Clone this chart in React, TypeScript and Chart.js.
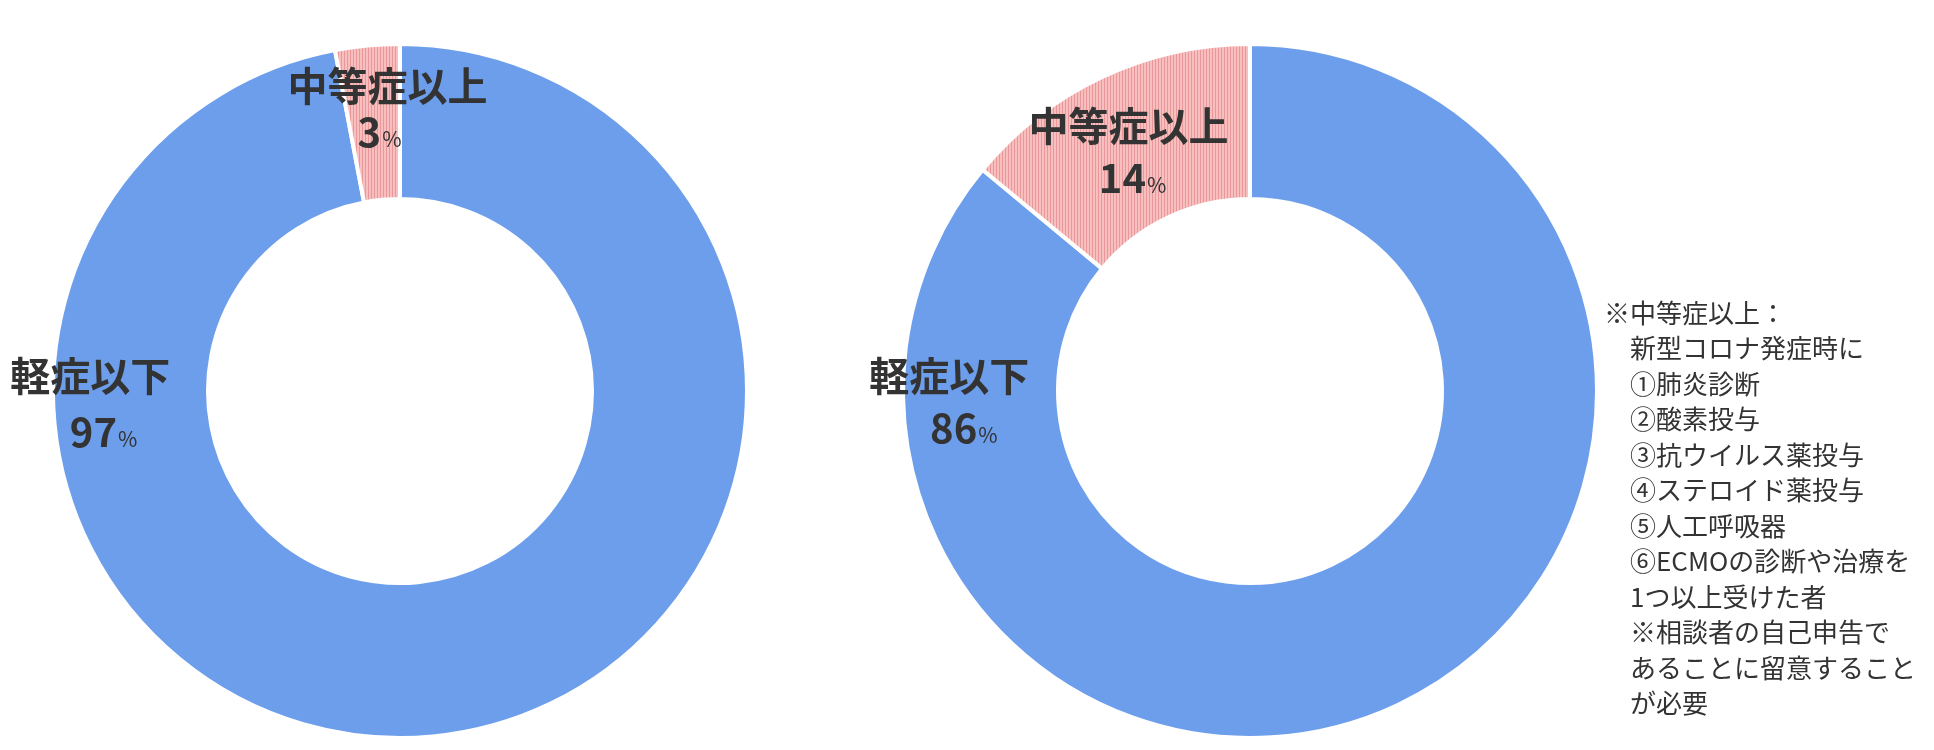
import { useEffect, useRef } from 'react';
import { Chart, registerables } from 'chart.js';

Chart.register(...registerables);

const CATEGORIES = ['軽症以下', '中等症以上'];
const LEFT_SHARES = [97, 3];
const RIGHT_SHARES = [86, 14];

const NOTE_LINES = [
  '※中等症以上：',
  '新型コロナ発症時に',
  '①肺炎診断',
  '②酸素投与',
  '③抗ウイルス薬投与',
  '④ステロイド薬投与',
  '⑤人工呼吸器',
  '⑥ECMOの診断や治療を',
  '1つ以上受けた者',
  '※相談者の自己申告で',
  'あることに留意すること',
  'が必要',
];

const FONT = '"Noto Sans CJK JP", "Noto Sans", sans-serif';
const TEXT = '#333333';
const BLUE = '#6d9eeb';
const BIG = 40;
const SMALL = 21;

// where each slice's label sits: angle from 12 o'clock (deg), distance as share of the outer radius
const LEFT_PLACES = [
  { angle: -92.4, rf: 0.875, gap: 56.5, valueDx: 13 },
  { angle: -3.4, rf: 0.814, gap: 46.5, valueDx: -8.5 },
];
const RIGHT_PLACES = [
  { angle: -92.2, rf: 0.847, gap: 53, valueDx: 14 },
  { angle: -26.6, rf: 0.77, gap: 53, valueDx: 3.5 },
];

function stripePattern() {
  const tile = document.createElement('canvas');
  tile.width = 3;
  tile.height = 4;
  const t = tile.getContext('2d');
  t.fillStyle = '#f7bfbf';
  t.fillRect(0, 0, 3, 4);
  t.fillStyle = '#eb9797';
  t.fillRect(2, 0, 1, 4);
  return document.createElement('canvas').getContext('2d').createPattern(tile, 'repeat');
}

function makeLabelPlugin(places) {
  return {
    id: 'sliceLabels',
    afterDatasetsDraw(chart) {
      const { ctx } = chart;
      const meta = chart.getDatasetMeta(0);
      const values = chart.data.datasets[0].data;
      meta.data.forEach((arc, i) => {
        const p = places[i];
        if (!p) return;
        const { x, y, outerRadius } = arc.getProps(['x', 'y', 'outerRadius'], true);
        const th = (p.angle * Math.PI) / 180;
        const cx = x + Math.sin(th) * outerRadius * p.rf;
        const cy = y - Math.cos(th) * outerRadius * p.rf;

        ctx.save();
        ctx.fillStyle = TEXT;
        ctx.textBaseline = 'alphabetic';

        // category line
        ctx.font = `bold ${BIG}px ${FONT}`;
        ctx.textAlign = 'center';
        const nameY = cy - p.gap / 2;
        ctx.fillText(chart.data.labels[i], cx - p.valueDx / 2, nameY + 0.38 * BIG);

        // value line: big number, small %
        const num = String(values[i]);
        ctx.font = `bold ${BIG}px ${FONT}`;
        const wNum = ctx.measureText(num).width;
        ctx.font = `${SMALL}px ${FONT}`;
        const wPct = ctx.measureText('%').width;
        const vx = cx + p.valueDx / 2 - (wNum + wPct) / 2;
        const base = cy + p.gap / 2 + 0.367 * BIG;
        ctx.textAlign = 'left';
        ctx.font = `bold ${BIG}px ${FONT}`;
        ctx.fillText(num, vx, base);
        ctx.font = `${SMALL}px ${FONT}`;
        ctx.fillText('%', vx + wNum + 1, base);
        ctx.restore();
      });
    },
  };
}

function Donut({ values, places, left }) {
  const canvasRef = useRef(null);
  const chartRef = useRef(null);

  useEffect(() => {
    if (chartRef.current) chartRef.current.destroy();

    chartRef.current = new Chart(canvasRef.current, {
      type: 'doughnut',
      data: {
        labels: CATEGORIES,
        datasets: [{
          data: values,
          backgroundColor: [BLUE, stripePattern()],
          borderColor: '#ffffff',
          borderWidth: 4,
          hoverOffset: 0,
        }],
      },
      options: {
        responsive: true,
        maintainAspectRatio: false,
        animation: false,
        events: [],
        radius: 347,
        cutout: '55.33%',
        layout: { padding: { top: 32 } },
        plugins: {
          legend: { display: false },
          tooltip: { enabled: false },
        },
      },
      plugins: [makeLabelPlugin(places)],
    });

    return () => { if (chartRef.current) chartRef.current.destroy(); };
  }, [values, places]);

  return (
    <div style={{ position: 'absolute', left, top: 0, width: 800, height: 750 }}>
      <canvas ref={canvasRef} />
    </div>
  );
}

export default function App() {
  return (
    <div style={{ position: 'absolute', left: 0, top: 0, width: 1934, height: 750, background: '#fff', overflow: 'hidden' }}>
      <Donut values={LEFT_SHARES} places={LEFT_PLACES} left={0} />
      <Donut values={RIGHT_SHARES} places={RIGHT_PLACES} left={850} />
      <div
        style={{
          position: 'absolute',
          left: 1604,
          top: 294,
          paddingLeft: 26,
          textIndent: -26,
          fontFamily: FONT,
          fontSize: 26,
          lineHeight: '35.45px',
          color: TEXT,
          whiteSpace: 'pre-line',
        }}
      >
        {NOTE_LINES.join('\n')}
      </div>
    </div>
  );
}
